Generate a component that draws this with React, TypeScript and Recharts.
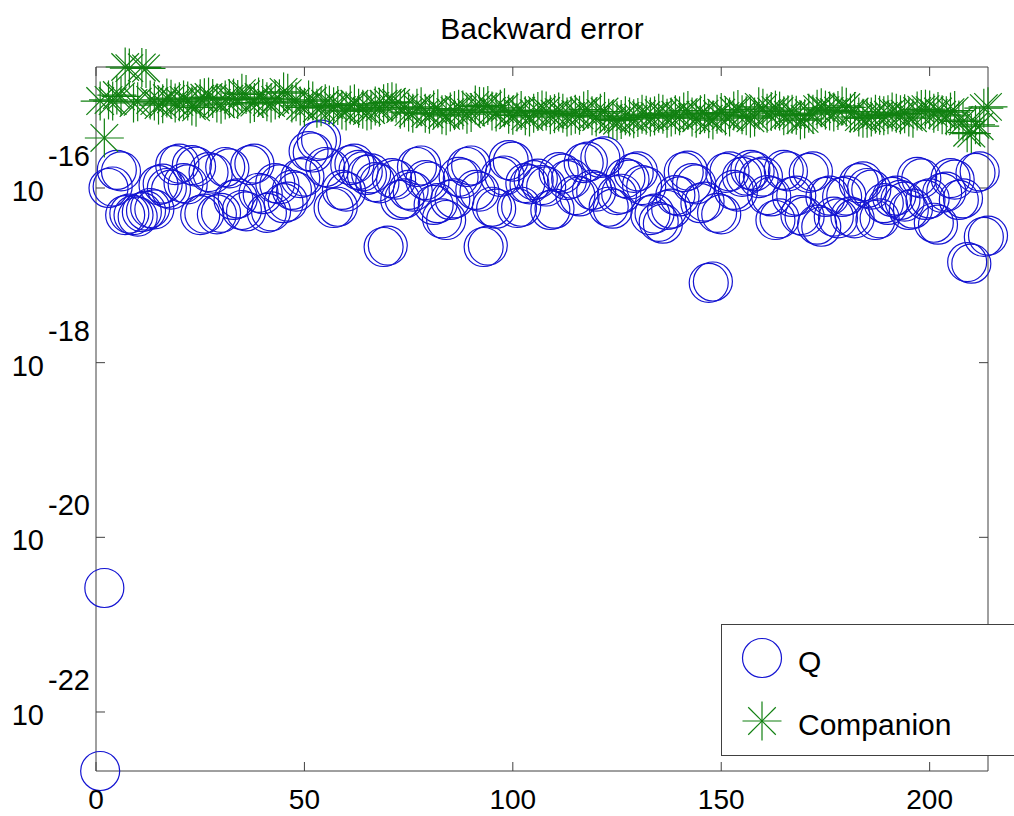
import React from "react";
import { ScatterChart, Scatter, XAxis, YAxis, ReferenceLine } from "recharts";

const FONT = "'Liberation Sans', Arial, Helvetica, sans-serif";
const BLUE = "#1414d2";
const GREEN = "#118011";
const AXIS = "#404040";
const MARKER_R = 19.5;
const TICK_LEN = 9;

const X_TICKS = [0, 50, 100, 150, 200];
const Y_TICKS = [1e-22, 1e-20, 1e-18, 1e-16];
const X_MAX = 214;

// backward error per eigenvalue (index 1..214), conjugate pairs sit side by side
const Q_ERROR = [
  2.11e-23, 2.63e-21,
  1.00e-16, 1.04e-16, 1.61e-16, 1.55e-16, 4.9e-17, 5.1e-17, 4.9e-17, 4.7e-17, 5.3e-17, 5.5e-17,
  5.9e-17, 5.7e-17, 1.08e-16, 1.12e-16, 1.00e-16, 9.6e-17, 1.83e-16, 1.90e-16, 1.14e-16, 1.10e-16,
  1.83e-16, 1.76e-16, 4.9e-17, 5.1e-17, 1.52e-16, 1.46e-16, 5.0e-17, 5.2e-17, 1.74e-16, 1.68e-16,
  7.3e-17, 7.6e-17, 5.6e-17, 5.4e-17, 1.83e-16, 1.90e-16, 8.8e-17, 8.5e-17, 5.2e-17, 5.4e-17,
  1.14e-16, 1.10e-16, 6.7e-17, 7.0e-17, 9.5e-17, 9.1e-17, 1.30e-16, 1.35e-16, 2.65e-16, 2.55e-16,
  3.45e-16, 3.58e-16, 1.74e-16, 1.68e-16, 5.9e-17, 6.1e-17, 9.5e-17, 9.1e-17, 1.83e-16, 1.90e-16,
  1.61e-16, 1.55e-16, 1.41e-16, 1.47e-16, 1.17e-16, 1.13e-16, 2.11e-17, 2.19e-17, 1.30e-16, 1.25e-16,
  7.3e-17, 7.6e-17, 9.5e-17, 9.1e-17, 1.74e-16, 1.81e-16, 1.23e-16, 1.18e-16, 6.4e-17, 6.7e-17,
  4.5e-17, 4.3e-17, 7.3e-17, 7.6e-17, 1.34e-16, 1.29e-16, 1.74e-16, 1.81e-16, 9.5e-17, 9.1e-17,
  2.11e-17, 2.19e-17, 6.1e-17, 5.8e-17, 1.34e-16, 1.39e-16, 2.09e-16, 2.01e-16, 5.9e-17, 6.1e-17,
  1.14e-16, 1.10e-16, 1.23e-16, 1.28e-16, 1.08e-16, 1.04e-16, 5.6e-17, 5.8e-17, 1.52e-16, 1.46e-16,
  1.23e-16, 1.28e-16, 8.3e-17, 8.0e-17, 1.93e-16, 2.00e-16, 9.5e-17, 9.1e-17, 2.21e-16, 2.30e-16,
  6.1e-17, 5.8e-17, 8.3e-17, 8.6e-17, 1.30e-16, 1.25e-16, 1.49e-16, 1.55e-16, 1.08e-16, 1.04e-16,
  4.9e-17, 5.1e-17, 4.1e-17, 3.9e-17, 5.6e-17, 5.8e-17, 8.3e-17, 8.0e-17, 1.52e-16, 1.58e-16,
  1.14e-16, 1.10e-16, 6.7e-17, 7.0e-17, 8.2e-18, 8.5e-18, 5.2e-17, 5.0e-17, 1.49e-16, 1.55e-16,
  9.5e-17, 9.1e-17, 1.34e-16, 1.39e-16, 1.61e-16, 1.55e-16, 1.30e-16, 1.35e-16, 8.3e-17, 8.0e-17,
  4.3e-17, 4.5e-17, 1.61e-16, 1.55e-16, 7.9e-17, 8.2e-17, 4.9e-17, 4.7e-17, 1.49e-16, 1.55e-16,
  3.8e-17, 3.6e-17, 7.9e-17, 8.2e-17, 4.7e-17, 4.5e-17, 7.9e-17, 8.2e-17, 4.7e-17, 4.5e-17,
  1.14e-16, 1.19e-16, 1.00e-16, 9.6e-17, 4.3e-17, 4.5e-17, 6.7e-17, 6.4e-17, 7.9e-17, 8.2e-17,
  7.3e-17, 7.0e-17, 5.6e-17, 5.8e-17, 1.34e-16, 1.29e-16, 7.3e-17, 7.6e-17, 4.0e-17, 3.8e-17,
  8.8e-17, 9.1e-17, 1.30e-16, 1.25e-16, 7.3e-17, 7.6e-17, 1.42e-17, 1.36e-17, 1.49e-16, 1.55e-16,
  2.75e-17, 2.85e-17,
];

const COMPANION_ERROR = [
  9.9e-16, 3.74e-16,
  1.02e-15, 9.9e-16, 1.16e-15, 1.12e-15, 2.43e-15, 2.36e-15, 9.4e-16, 9.7e-16, 2.40e-15, 2.34e-15,
  1.02e-15, 9.9e-16, 8.9e-16, 9.2e-16, 1.07e-15, 1.04e-15, 9.4e-16, 9.7e-16, 1.02e-15, 9.9e-16,
  8.7e-16, 8.4e-16, 1.05e-15, 1.08e-15, 1.10e-15, 1.06e-15, 9.4e-16, 9.1e-16, 1.02e-15, 1.05e-15,
  1.07e-15, 1.03e-15, 1.22e-15, 1.18e-15, 9.2e-16, 9.5e-16, 1.10e-15, 1.06e-15, 9.7e-16, 9.4e-16,
  1.02e-15, 1.05e-15, 1.26e-15, 1.22e-15, 9.4e-16, 9.7e-16, 8.7e-16, 8.4e-16, 1.02e-15, 9.9e-16,
  8.2e-16, 8.5e-16, 9.2e-16, 8.9e-16, 8.5e-16, 8.8e-16, 7.8e-16, 7.6e-16, 8.9e-16, 9.2e-16,
  8.2e-16, 8.0e-16, 7.6e-16, 7.8e-16, 8.7e-16, 8.4e-16, 9.2e-16, 9.5e-16, 9.7e-16, 9.4e-16,
  8.0e-16, 8.3e-16, 7.4e-16, 7.2e-16, 8.2e-16, 8.5e-16, 7.2e-16, 7.0e-16, 7.8e-16, 8.1e-16,
  6.9e-16, 6.7e-16, 7.4e-16, 7.7e-16, 8.0e-16, 7.8e-16, 7.0e-16, 7.3e-16, 8.9e-16, 8.6e-16,
  8.5e-16, 8.8e-16, 7.6e-16, 7.4e-16, 8.0e-16, 8.3e-16, 7.0e-16, 6.8e-16, 7.4e-16, 7.7e-16,
  6.7e-16, 6.5e-16, 7.2e-16, 7.5e-16, 7.8e-16, 7.6e-16, 6.9e-16, 7.1e-16, 7.4e-16, 7.2e-16,
  6.5e-16, 6.7e-16, 7.0e-16, 6.8e-16, 7.6e-16, 7.9e-16, 6.7e-16, 6.5e-16, 7.2e-16, 7.5e-16,
  6.3e-16, 6.1e-16, 5.9e-16, 6.1e-16, 6.7e-16, 6.5e-16, 6.2e-16, 6.4e-16, 7.0e-16, 6.8e-16,
  6.5e-16, 6.7e-16, 7.2e-16, 7.0e-16, 6.3e-16, 6.5e-16, 6.9e-16, 6.7e-16, 7.4e-16, 7.7e-16,
  6.5e-16, 6.3e-16, 6.9e-16, 7.1e-16, 6.2e-16, 6.0e-16, 7.0e-16, 7.3e-16, 6.7e-16, 6.5e-16,
  7.6e-16, 7.9e-16, 6.9e-16, 6.7e-16, 6.3e-16, 6.5e-16, 8.5e-16, 8.2e-16, 7.2e-16, 7.5e-16,
  7.8e-16, 7.6e-16, 6.7e-16, 6.9e-16, 7.0e-16, 6.8e-16, 6.0e-16, 6.2e-16, 7.2e-16, 7.0e-16,
  8.0e-16, 8.3e-16, 7.8e-16, 7.6e-16, 7.4e-16, 7.7e-16, 8.7e-16, 8.4e-16, 7.2e-16, 7.5e-16,
  6.5e-16, 6.3e-16, 6.3e-16, 6.5e-16, 7.0e-16, 6.8e-16, 6.7e-16, 6.9e-16, 7.4e-16, 7.2e-16,
  6.9e-16, 7.1e-16, 6.5e-16, 6.3e-16, 7.6e-16, 7.9e-16, 8.0e-16, 7.8e-16, 7.2e-16, 7.5e-16,
  6.9e-16, 6.7e-16, 7.4e-16, 7.7e-16, 6.0e-16, 5.8e-16, 4.3e-16, 4.2e-16, 5.3e-16, 5.1e-16,
  8.2e-16, 8.5e-16,
];

const qData = Q_ERROR.map((y, i) => ({ x: i + 1, y }));
const companionData = COMPANION_ERROR.map((y, i) => ({ x: i + 1, y }));
const allValues = [...Q_ERROR, ...COMPANION_ERROR];
const Y_MIN = Math.min(...allValues);
const Y_MAX = Math.max(...allValues);

function CircleMarker({ cx, cy }: any) {
  return <circle cx={cx} cy={cy} r={MARKER_R} fill="none" stroke={BLUE} strokeWidth={1.2} />;
}

function StarMarker({ cx, cy }: any) {
  const r = MARKER_R;
  const d = r * Math.SQRT1_2;
  return (
    <g stroke={GREEN} strokeWidth={1.2}>
      <line x1={cx - r} y1={cy} x2={cx + r} y2={cy} />
      <line x1={cx} y1={cy - r} x2={cx} y2={cy + r} />
      <line x1={cx - d} y1={cy - d} x2={cx + d} y2={cy + d} />
      <line x1={cx - d} y1={cy + d} x2={cx + d} y2={cy - d} />
    </g>
  );
}

// matlab style: short ticks pointing into the box at both ends of the line
function InwardTicks(props: any) {
  const { x1, y1, x2, y2 } = props;
  const len = Math.hypot(x2 - x1, y2 - y1) || 1;
  const ux = ((x2 - x1) / len) * TICK_LEN;
  const uy = ((y2 - y1) / len) * TICK_LEN;
  return (
    <g stroke={AXIS} strokeWidth={1}>
      <line x1={x1} y1={y1} x2={x1 + ux} y2={y1 + uy} />
      <line x1={x2} y1={y2} x2={x2 - ux} y2={y2 - uy} />
    </g>
  );
}

function XTick({ x, y, payload }: any) {
  return (
    <text x={x} y={y + 38} textAnchor="middle" fontFamily={FONT} fontSize={28} fill="#000">
      {payload.value}
    </text>
  );
}

function LogTick({ x, y, payload }: any) {
  const exp = Math.round(Math.log10(payload.value));
  return (
    <g fontFamily={FONT} fontSize={29} fill="#000">
      <text x={x - 52} y={y + 13} textAnchor="end">10</text>
      <text x={x - 6} y={y - 22} textAnchor="end">{String(exp)}</text>
    </g>
  );
}

export default function App() {
  return (
    <div style={{ position: "absolute", left: 0, top: 0, width: 1014, height: 816, overflow: "hidden", background: "#fff" }}>
      <ScatterChart width={1014} height={816} margin={{ top: 67, right: 26, bottom: 0, left: 0 }}>
        <XAxis
          type="number"
          dataKey="x"
          domain={[0, X_MAX]}
          ticks={X_TICKS}
          height={45}
          tick={<XTick />}
          tickLine={false}
          tickSize={0}
          tickMargin={0}
          axisLine={{ stroke: AXIS }}
        />
        <YAxis
          type="number"
          dataKey="y"
          scale="log"
          domain={[Y_MIN, Y_MAX]}
          ticks={Y_TICKS}
          width={96}
          tick={<LogTick />}
          tickLine={false}
          tickSize={0}
          tickMargin={0}
          axisLine={{ stroke: AXIS }}
        />
        <ReferenceLine y={Y_MAX} stroke={AXIS} />
        <ReferenceLine x={X_MAX} stroke={AXIS} />
        {X_TICKS.map((t) => (
          <ReferenceLine key={"x" + t} x={t} shape={InwardTicks} />
        ))}
        {Y_TICKS.map((t) => (
          <ReferenceLine key={"y" + t} y={t} shape={InwardTicks} />
        ))}
        <Scatter name="Q" data={qData} shape={CircleMarker} isAnimationActive={false} />
        <Scatter name="Companion" data={companionData} shape={StarMarker} isAnimationActive={false} />
      </ScatterChart>
      <svg width={1014} height={816} style={{ position: "absolute", left: 0, top: 0, pointerEvents: "none" }}>
        <text x={542} y={39} textAnchor="middle" fontFamily={FONT} fontSize={30} fill="#000">
          Backward error
        </text>
        <rect x={721.5} y={624.5} width={320} height={131} fill="#fff" stroke={AXIS} />
        <CircleMarker cx={762} cy={658} />
        <text x={798} y={672} fontFamily={FONT} fontSize={30} fill="#000">Q</text>
        <StarMarker cx={762} cy={721} />
        <text x={798} y={735} fontFamily={FONT} fontSize={30} fill="#000">Companion</text>
      </svg>
    </div>
  );
}
